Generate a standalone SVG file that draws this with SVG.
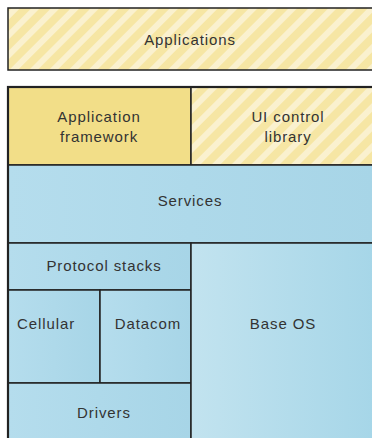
<svg xmlns="http://www.w3.org/2000/svg" width="372" height="438" viewBox="0 0 372 438">
<defs>
<pattern id="hatch" patternUnits="userSpaceOnUse" width="14" height="14" patternTransform="rotate(45)">
<rect width="14" height="14" fill="#f6e6a4"/>
<rect width="6" height="14" fill="#faf1cf"/>
</pattern>
<linearGradient id="blueGrad" x1="0" y1="0" x2="1" y2="0">
<stop offset="0" stop-color="#c2e3ef"/>
<stop offset="1" stop-color="#a6d6e8"/>
</linearGradient>
<linearGradient id="blueGrad2" x1="0" y1="0" x2="1" y2="0">
<stop offset="0" stop-color="#b5dded"/>
<stop offset="1" stop-color="#a7d5e7"/>
</linearGradient>
</defs>
<style>
.box{stroke:#222;stroke-width:1.5}
.lbl{font-family:"Liberation Sans",Arial,sans-serif;font-size:15px;fill:#333;text-anchor:middle;letter-spacing:0.9px}
.yel{fill:#f2de88}
.blue{fill:url(#blueGrad2)}
</style>
<rect width="372" height="438" fill="#ffffff"/>
<g id="applications">
<rect class="box" x="8" y="8" width="366" height="62" fill="url(#hatch)" stroke-width="2.2"/>
<text class="lbl" x="190" y="45">Applications</text>
</g>
<g id="app-framework">
<rect class="box yel" x="8" y="87" width="183" height="78"/>
<text class="lbl" x="99" y="122">Application</text>
<text class="lbl" x="99" y="142">framework</text>
</g>
<g id="ui-control-library">
<rect class="box" x="191" y="87" width="183" height="78" fill="url(#hatch)"/>
<text class="lbl" x="288" y="122">UI control</text>
<text class="lbl" x="288" y="142">library</text>
</g>
<g id="services">
<rect class="box blue" x="8" y="165" width="366" height="78"/>
<text class="lbl" x="190" y="206">Services</text>
</g>
<g id="protocol-stacks">
<rect class="box blue" x="8" y="243" width="183" height="47"/>
<text class="lbl" x="104" y="271">Protocol stacks</text>
</g>
<g id="cellular">
<rect class="box blue" x="8" y="290" width="92" height="93"/>
<text class="lbl" x="46" y="329">Cellular</text>
</g>
<g id="datacom">
<rect class="box blue" x="100" y="290" width="91" height="93"/>
<text class="lbl" x="148" y="329">Datacom</text>
</g>
<g id="drivers">
<rect class="box blue" x="8" y="383" width="183" height="57"/>
<text class="lbl" x="104" y="418">Drivers</text>
</g>
<g id="base-os">
<rect class="box" x="191" y="243" width="183" height="197" fill="url(#blueGrad)"/>
<text class="lbl" x="283" y="329">Base OS</text>
</g>
<g id="connectors">
<rect x="8" y="87" width="366" height="353" fill="none" stroke="#222" stroke-width="2.2"/>
</g>
</svg>
